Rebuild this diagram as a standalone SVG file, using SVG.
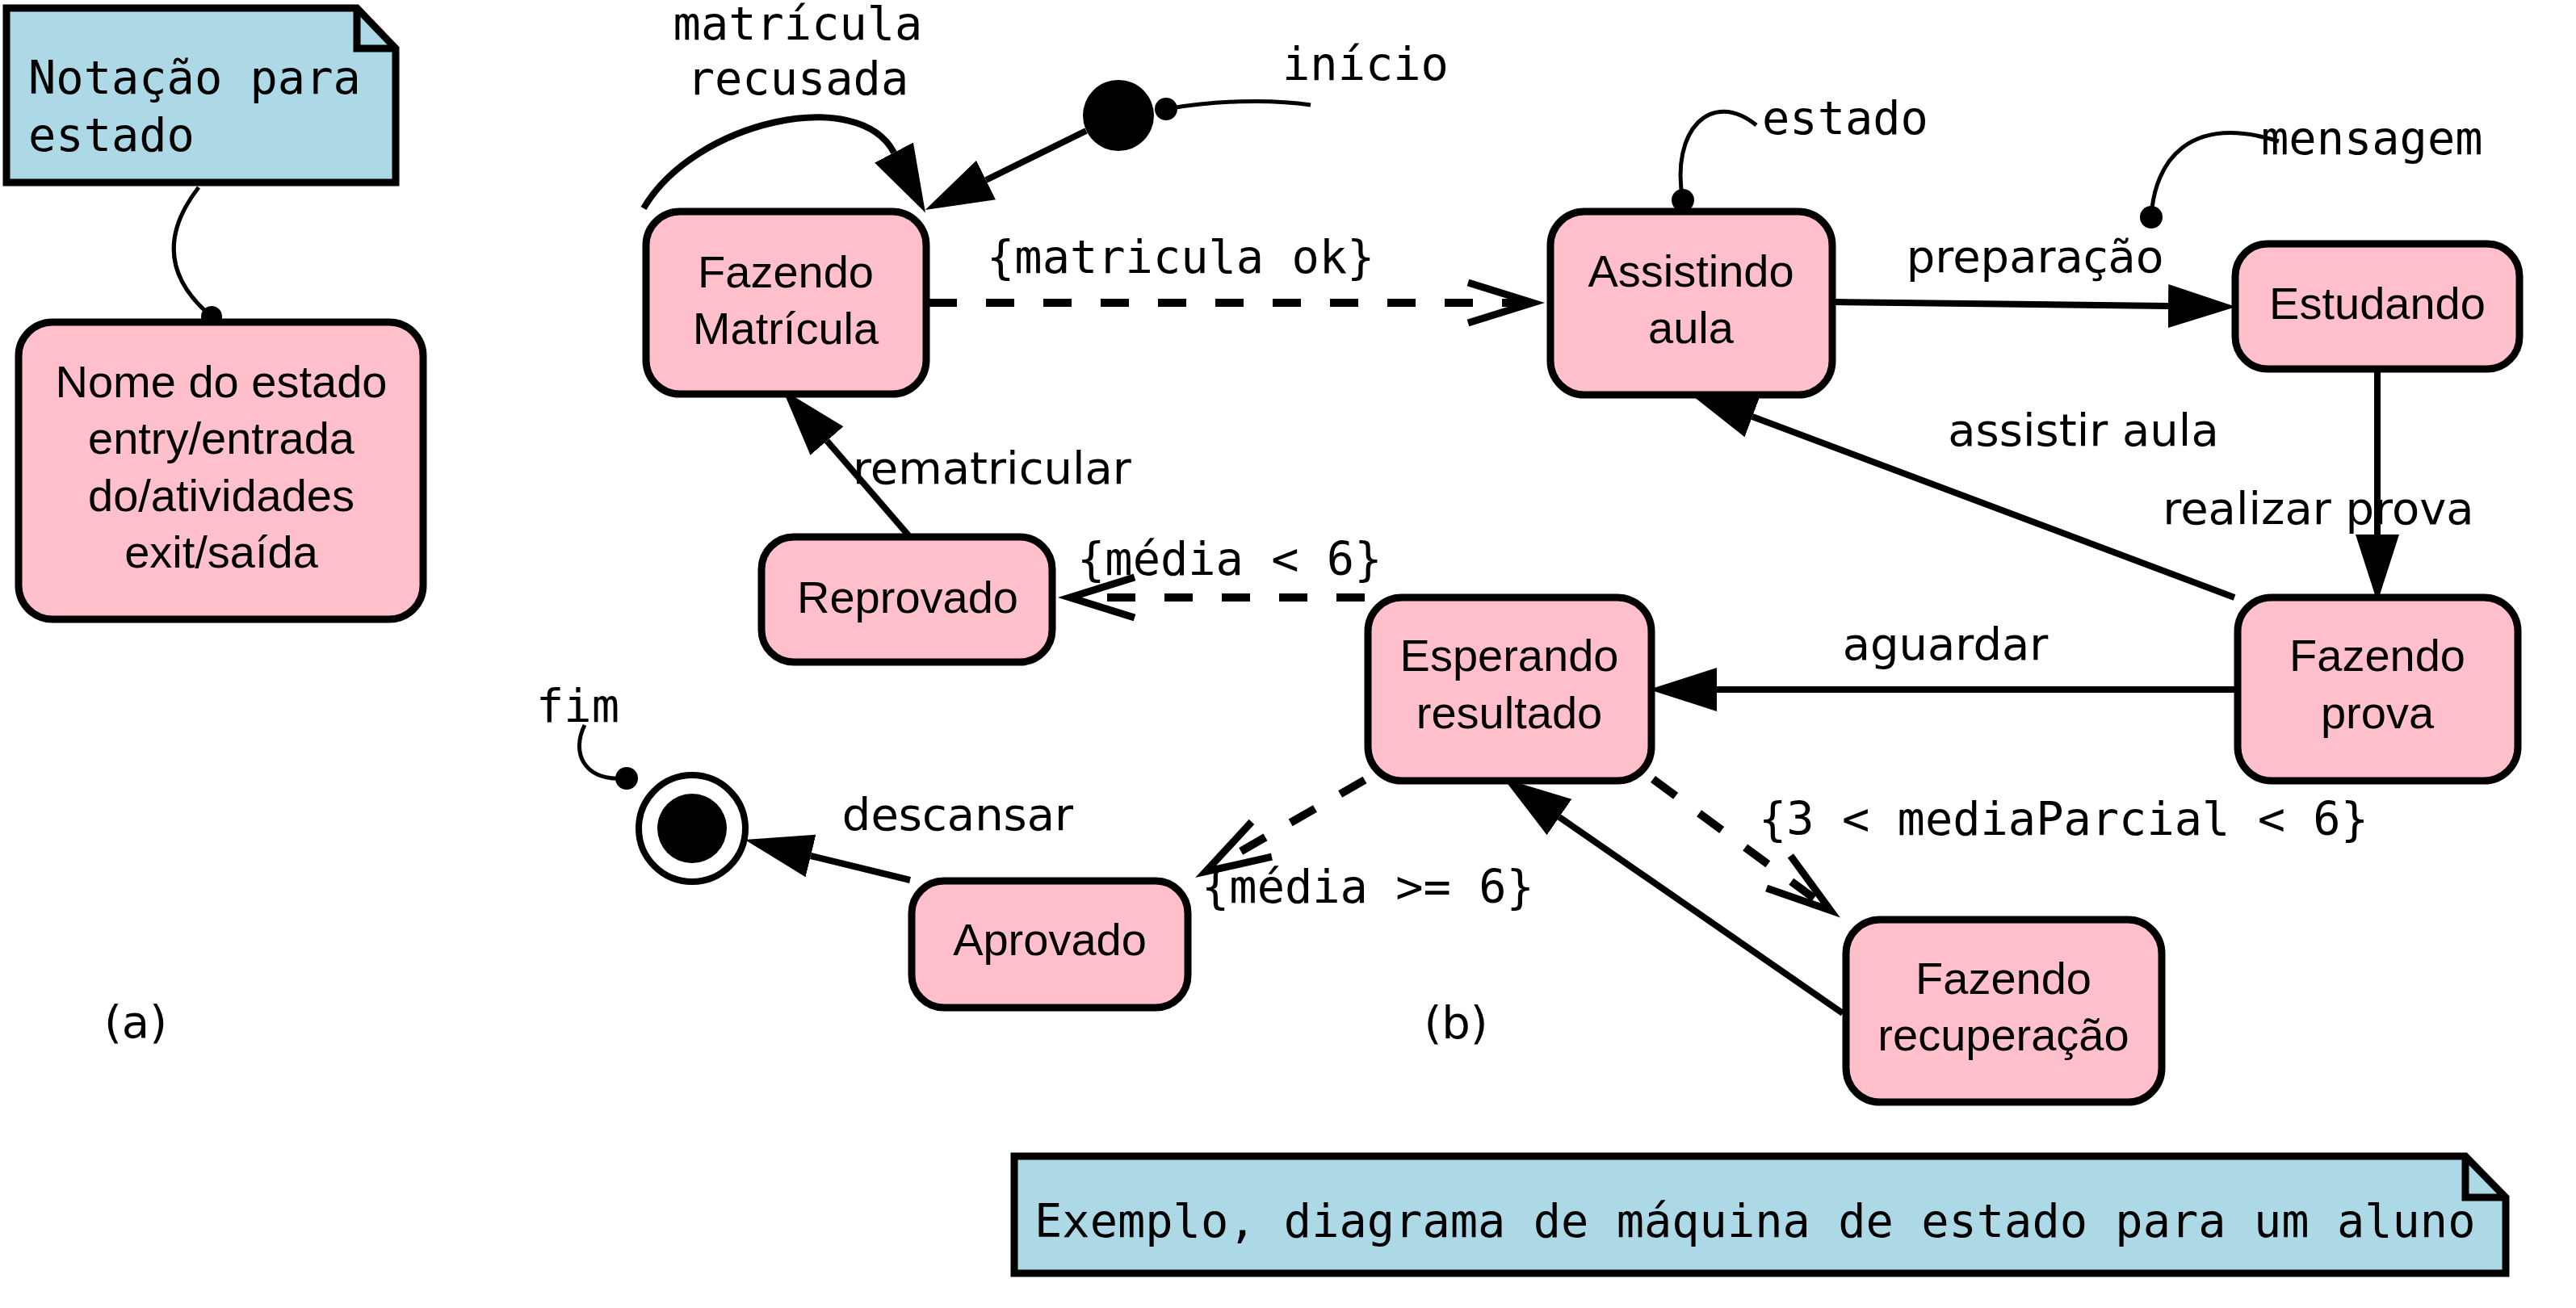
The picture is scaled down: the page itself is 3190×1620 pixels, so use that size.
<svg xmlns="http://www.w3.org/2000/svg" width="3190" height="1620" viewBox="0 0 3190 1620">
<style>
.node rect{fill:#FFC0CB;stroke:#000;stroke-width:9}
.nt{font-family:"Liberation Sans",Arial,sans-serif;font-size:56px;text-anchor:middle;fill:#000}
.lbl{font-family:"DejaVu Sans",sans-serif;font-size:56px;fill:#000}
.mono{font-family:"DejaVu Sans Mono","Liberation Mono",monospace;font-size:57px;fill:#000}
.note path{fill:#ADD8E6;stroke:#000;stroke-width:9;stroke-linejoin:miter}
.note path.fold{fill:none}
.solid{fill:none;stroke:#000;stroke-width:8;marker-end:url(#af)}
.dash{fill:none;stroke:#000;stroke-width:10;stroke-dasharray:35 36;marker-end:url(#ao)}
.thin{fill:none;stroke:#000;stroke-width:5}
.mid{text-anchor:middle}
</style>
<defs>
<marker id="af" markerUnits="userSpaceOnUse" viewBox="0 -30 90 60" markerWidth="90" markerHeight="60" refX="0" refY="0" orient="auto">
<path d="M0,-27 L84,0 L0,27 Z" fill="#000"/>
</marker>
<marker id="ao" markerUnits="userSpaceOnUse" viewBox="-10 -40 120 80" markerWidth="120" markerHeight="80" refX="79" refY="0" orient="auto" overflow="visible">
<path d="M0,-25 L80,0 L0,25" fill="none" stroke="#000" stroke-width="9" stroke-linejoin="miter" stroke-miterlimit="10"/>
</marker>
</defs>
<rect width="3190" height="1620" fill="#fff"/>

<g id="connectors">
<!-- note connectors -->
<path class="thin" d="M246,232 C205,285 200,340 262,392"/>
<circle cx="262" cy="392" r="13"/>
<path class="thin" d="M1444,135 C1500,125 1570,122 1623,130"/>
<circle cx="1444" cy="135" r="14"/>
<path class="thin" d="M2084,248 C2068,160 2120,110 2175,155"/>
<circle cx="2084" cy="248" r="14"/>
<path class="thin" d="M2664,269 C2668,200 2710,140 2822,175"/>
<circle cx="2664" cy="269" r="14"/>
<path class="thin" d="M724,898 C708,930 720,968 776,964"/>
<circle cx="776" cy="964" r="14"/>

<!-- transitions -->
<path class="solid" d="M1345,162 L1221,223"/>
<path class="solid" d="M797,258 C860,150 1063,105 1107,189"/>
<path class="dash" d="M1150,375 L1897,375"/>
<path class="solid" d="M2270,374 L2685,379"/>
<path class="solid" d="M2944,457 L2944,662"/>
<path class="solid" d="M2767,740 L2170,516"/>
<path class="solid" d="M2768,854 L2126,854"/>
<path class="dash" d="M1690,740 L1326,740"/>
<path class="solid" d="M1125,663 L1024,546"/>
<path class="dash" d="M1690,966 L1494,1079"/>
<path class="dash" d="M2047,965 L2266,1127"/>
<path class="solid" d="M2282,1255 L1931,1012"/>
<path class="solid" d="M1127,1090 L1004,1060"/>

<!-- labels -->
<text class="mono mid" x="988" y="49">matrícula</text>
<text class="mono mid" x="988" y="117">recusada</text>
<text class="mono" x="1588" y="99">início</text>
<text class="mono" x="2182" y="166">estado</text>
<text class="mono" x="2800" y="191">mensagem</text>
<text class="mono" x="664" y="894">fim</text>
<text class="mono" x="1222" y="338">{matricula ok}</text>
<text class="mono" x="1334" y="712">{média &lt; 6}</text>
<text class="mono" x="1488" y="1118">{média &gt;= 6}</text>
<text class="mono" x="2178" y="1034">{3 &lt; mediaParcial &lt; 6}</text>
<text class="lbl mid" x="2520" y="337">preparação</text>
<text class="lbl mid" x="2580" y="552">assistir aula</text>
<text class="lbl mid" x="2871" y="649">realizar prova</text>
<text class="lbl mid" x="2409" y="817">aguardar</text>
<text class="lbl" x="1056" y="599">rematricular</text>
<text class="lbl mid" x="1186" y="1028">descansar</text>
</g>

<g id="note-notacao" class="note">
<path d="M8,10 L442,10 L490,60 L490,226 L8,226 Z"/>
<path class="fold" d="M442,10 L442,60 L490,60"/>
<text class="mono" x="35" y="116">Notação para</text>
<text class="mono" x="35" y="187">estado</text>
</g>

<g id="node-nome" class="node">
<rect x="23" y="399" width="501" height="368" rx="42"/>
<text class="nt" x="274" y="492">Nome do estado</text>
<text class="nt" x="274" y="562">entry/entrada</text>
<text class="nt" x="274" y="633">do/atividades</text>
<text class="nt" x="274" y="703">exit/saída</text>
</g>

<text id="label-a" class="lbl mid" x="168" y="1285">(a)</text>
<text id="label-b" class="lbl mid" x="1803" y="1286">(b)</text>

<g id="initial">
<circle cx="1385" cy="143" r="44" fill="#000"/>
</g>

<g id="final">
<circle cx="857" cy="1026" r="66" fill="#fff" stroke="#000" stroke-width="8"/>
<circle cx="857" cy="1026" r="43" fill="#000"/>
</g>

<g id="node-fazendo-matricula" class="node">
<rect x="800" y="262" width="347" height="226" rx="42"/>
<text class="nt" x="973" y="356">Fazendo</text>
<text class="nt" x="973" y="426">Matrícula</text>
</g>

<g id="node-assistindo" class="node">
<rect x="1920" y="262" width="349" height="227" rx="42"/>
<text class="nt" x="2094" y="355">Assistindo</text>
<text class="nt" x="2094" y="425">aula</text>
</g>

<g id="node-estudando" class="node">
<rect x="2768" y="302" width="352" height="155" rx="40"/>
<text class="nt" x="2944" y="395">Estudando</text>
</g>

<g id="node-fazendo-prova" class="node">
<rect x="2771" y="740" width="347" height="227" rx="42"/>
<text class="nt" x="2944" y="831">Fazendo</text>
<text class="nt" x="2944" y="902">prova</text>
</g>

<g id="node-esperando" class="node">
<rect x="1694" y="740" width="351" height="227" rx="42"/>
<text class="nt" x="1869" y="831">Esperando</text>
<text class="nt" x="1869" y="902">resultado</text>
</g>

<g id="node-reprovado" class="node">
<rect x="943" y="665" width="360" height="155" rx="40"/>
<text class="nt" x="1124" y="759">Reprovado</text>
</g>

<g id="node-aprovado" class="node">
<rect x="1129" y="1091" width="342" height="157" rx="40"/>
<text class="nt" x="1300" y="1183">Aprovado</text>
</g>

<g id="node-recuperacao" class="node">
<rect x="2286" y="1139" width="391" height="226" rx="42"/>
<text class="nt" x="2481" y="1231">Fazendo</text>
<text class="nt" x="2481" y="1301">recuperação</text>
</g>

<g id="note-exemplo" class="note">
<path d="M1256,1432 L3053,1432 L3103,1483 L3103,1577 L1256,1577 Z"/>
<path class="fold" d="M3053,1432 L3053,1483 L3103,1483"/>
<text class="mono" x="1281" y="1532">Exemplo, diagrama de máquina de estado para um aluno</text>
</g>
</svg>
